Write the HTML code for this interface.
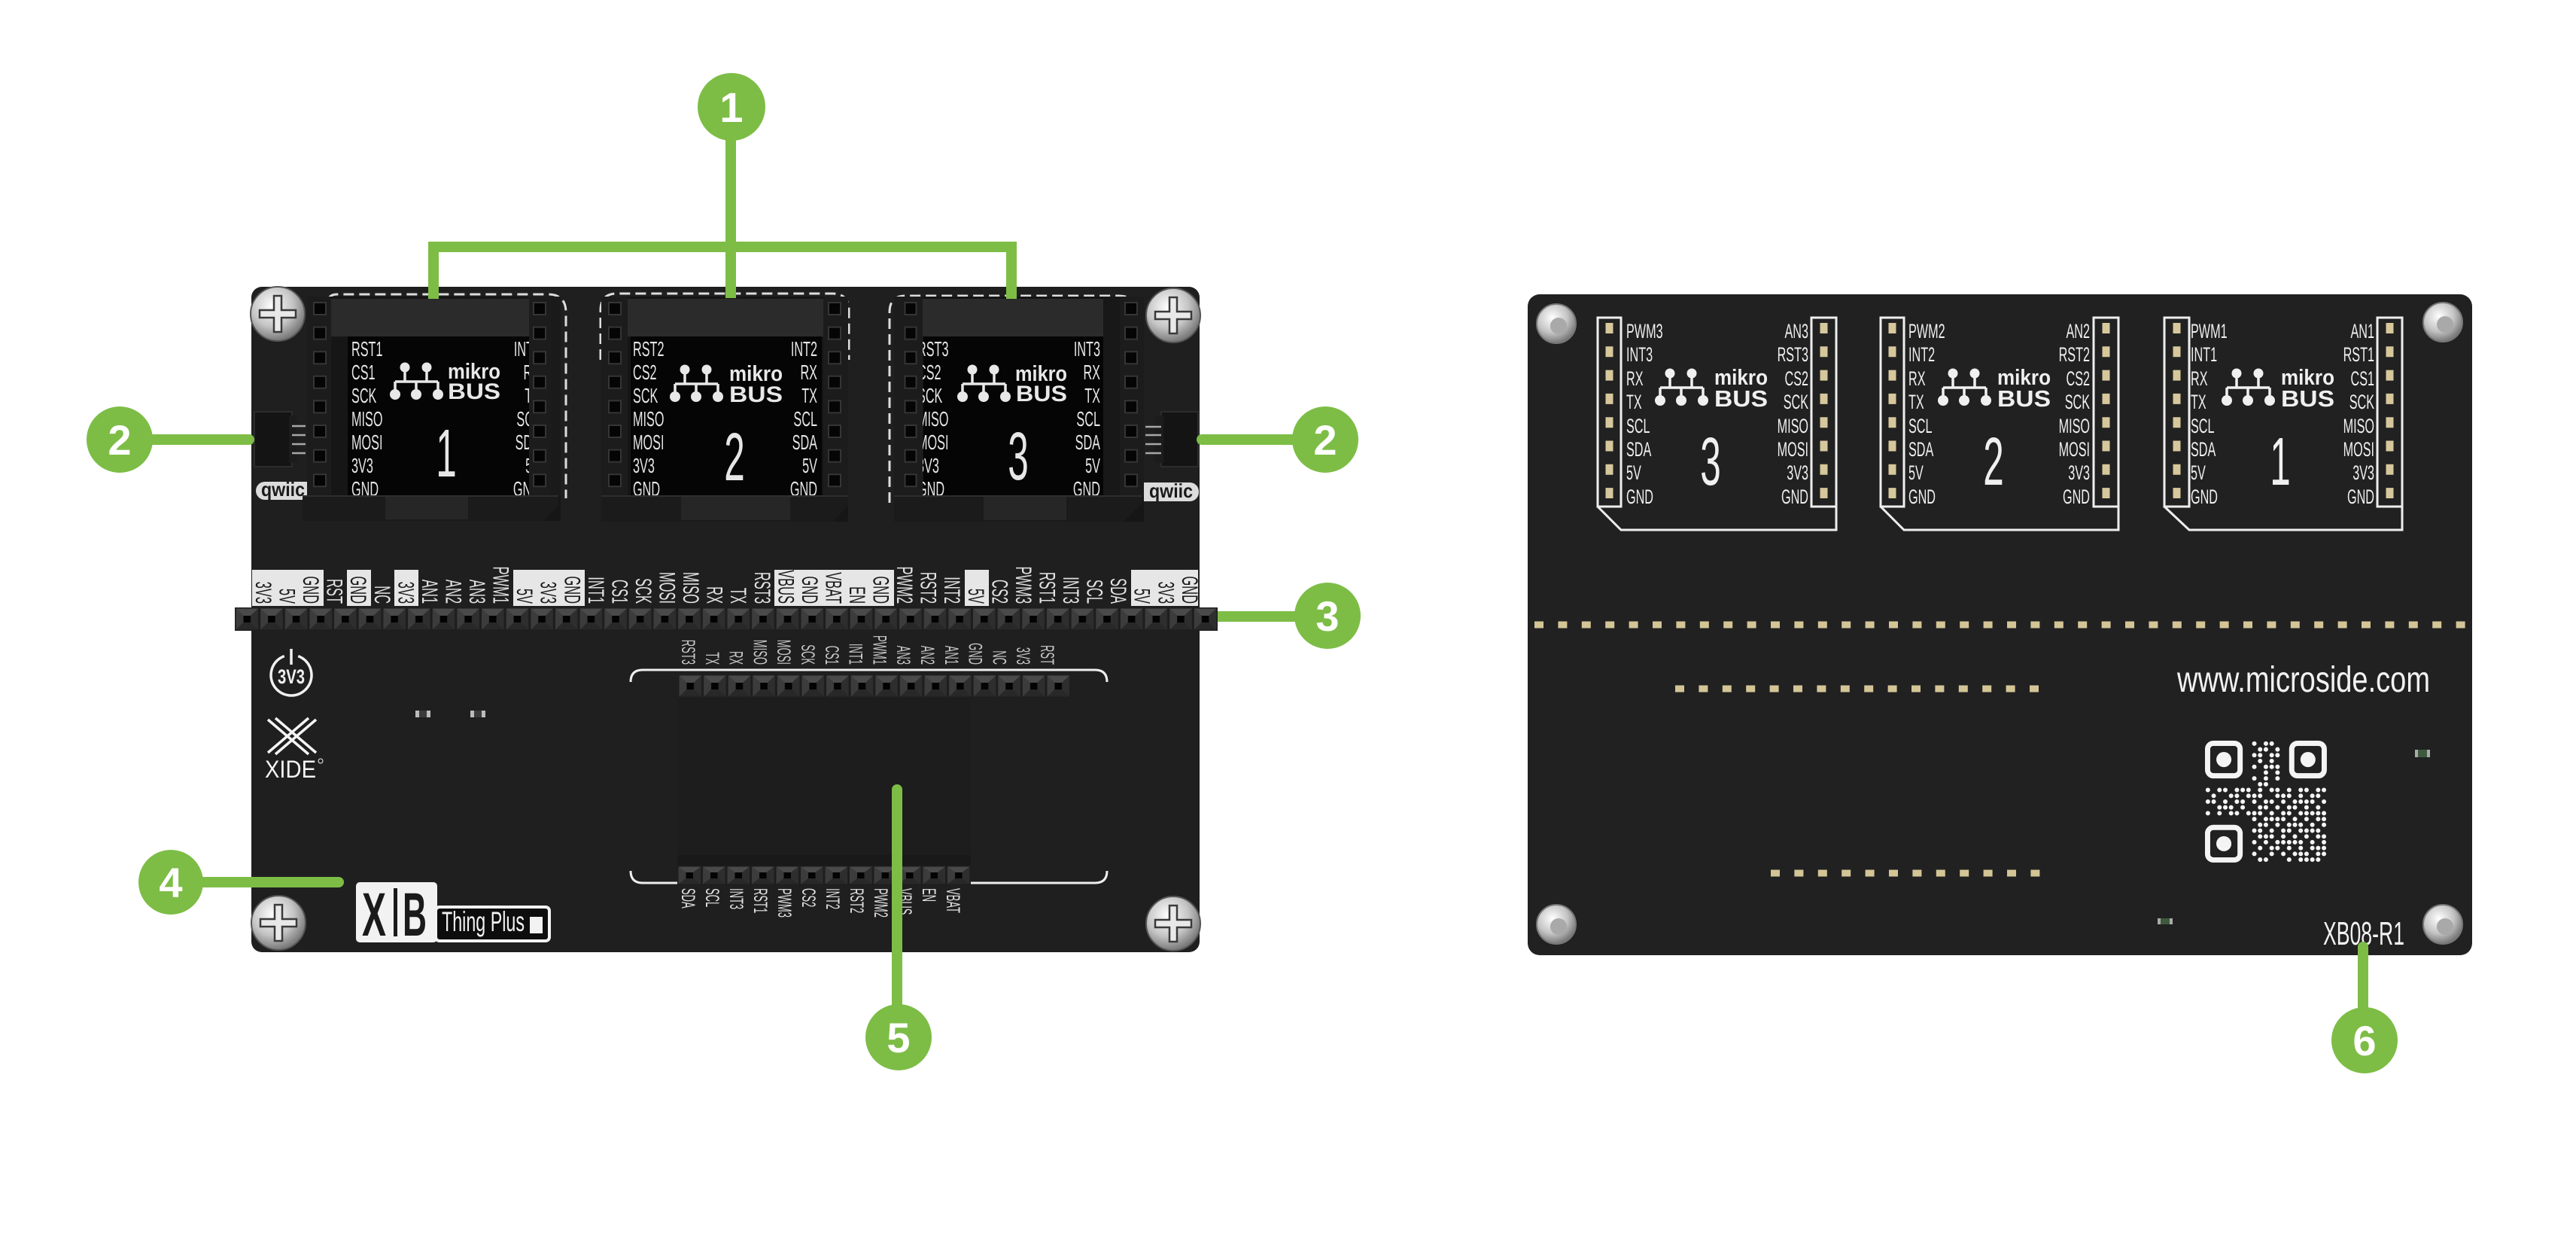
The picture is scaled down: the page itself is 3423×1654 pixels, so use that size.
<!DOCTYPE html>
<html><head><meta charset="utf-8">
<style>
html,body{margin:0;padding:0;background:#fff;}
svg{display:block;}
text{font-family:"Liberation Sans",sans-serif;}
</style></head><body>
<svg width="3423" height="1654" viewBox="0 0 3423 1654" xmlns="http://www.w3.org/2000/svg">
<defs>
 <radialGradient id="scr" cx="40%" cy="35%" r="70%">
  <stop offset="0" stop-color="#ffffff"/>
  <stop offset="0.55" stop-color="#c4c4c4"/>
  <stop offset="1" stop-color="#6a6a6a"/>
 </radialGradient>
 <pattern id="hdrA" x="312" y="807" width="32.65" height="31" patternUnits="userSpaceOnUse">
  <rect width="33" height="31" fill="#1e1e1e"/>
  <polygon points="1.5,1.5 31,1.5 21,11 11.5,11" fill="#4a4a4a"/>
  <polygon points="1.5,1.5 11.5,11 11.5,20 1.5,29.5" fill="#3c3c3c"/>
  <polygon points="31,1.5 31,29.5 21,20 21,11" fill="#2e2e2e"/>
  <polygon points="1.5,29.5 11.5,20 21,20 31,29.5" fill="#282828"/>
  <rect x="11.5" y="11" width="9.5" height="9" fill="#030303"/>
 </pattern>
 <pattern id="hdrB" x="901" y="896" width="32.6" height="31" patternUnits="userSpaceOnUse">
  <rect width="33" height="31" fill="#1e1e1e"/>
  <polygon points="1.5,1.5 31,1.5 21,11 11.5,11" fill="#4a4a4a"/>
  <polygon points="1.5,1.5 11.5,11 11.5,20 1.5,29.5" fill="#3c3c3c"/>
  <polygon points="31,1.5 31,29.5 21,20 21,11" fill="#2e2e2e"/>
  <polygon points="1.5,29.5 11.5,20 21,20 31,29.5" fill="#282828"/>
  <rect x="11.5" y="11" width="9.5" height="9" fill="#030303"/>
 </pattern>
 <pattern id="hdrC" x="900" y="1150" width="32.5" height="26" patternUnits="userSpaceOnUse">
  <rect width="33" height="26" fill="#1e1e1e"/>
  <polygon points="1.5,1.5 31,1.5 21,9 11.5,9" fill="#4a4a4a"/>
  <polygon points="1.5,1.5 11.5,9 11.5,17 1.5,24.5" fill="#3c3c3c"/>
  <polygon points="31,1.5 31,24.5 21,17 21,9" fill="#2e2e2e"/>
  <polygon points="1.5,24.5 11.5,17 21,17 31,24.5" fill="#282828"/>
  <rect x="11.5" y="9" width="9.5" height="8" fill="#030303"/>
 </pattern>
</defs>

<rect width="3423" height="1654" fill="#ffffff"/>

<!-- ================= LEFT BOARD ================= -->
<rect x="334" y="381" width="1260" height="884" rx="14" fill="#1f1f1f"/>
<rect x="901" y="927" width="389" height="210" fill="#1d1d1d"/>

<!-- qwiic connectors -->
<rect x="338" y="547" width="50" height="73" fill="#141414" stroke="#2c2c2c" stroke-width="2"/>
<rect x="384" y="552" width="10" height="63" fill="#1c1c1c"/>
<path d="M388 566H406M388 578H406M388 590H406M388 602H406" stroke="#a8a8a8" stroke-width="2.5"/>
<rect x="1543" y="547" width="49" height="73" fill="#141414" stroke="#2c2c2c" stroke-width="2"/>
<rect x="1534" y="552" width="12" height="63" fill="#1c1c1c"/>
<path d="M1522 567H1543M1522 578H1543M1522 590H1543M1522 602H1543" stroke="#a8a8a8" stroke-width="2.5"/>
<rect x="340" y="640" width="82" height="24" rx="12" fill="#dcdcdc"/>
<text x="347" y="659" font-size="26" font-weight="bold" fill="#1a1a1a" textLength="58" lengthAdjust="spacingAndGlyphs">qwiic</text>
<rect x="1505" y="641" width="88" height="25" rx="12" fill="#dcdcdc"/>
<text x="1527" y="661" font-size="26" font-weight="bold" fill="#1a1a1a" textLength="58" lengthAdjust="spacingAndGlyphs">qwiic</text>

<!-- dashed outlines -->
<g fill="none" stroke="#dddddd" stroke-width="3" stroke-dasharray="14 7">
 <path d="M437 396 Q440 391 448 391 H728 Q752 391 752 415 V662"/>
 <path d="M798 478 V412 Q798 390 820 390 H1106 Q1128 390 1128 412 V478"/>
 <path d="M1182 668 V415 Q1182 393 1203 393 H1486 Q1500 393 1505 400"/>
</g>

<!-- ===== Socket 1 ===== -->
<rect x="408" y="394" width="337" height="298" fill="#161616"/>
<rect x="440" y="397" width="263" height="50" fill="#2b2b2b"/>
<rect x="462" y="447" width="241" height="211" fill="#050505"/>
<g font-size="28" fill="#e6e6e6">
 <text transform="translate(467 473) scale(.58 1)">RST1</text>
 <text transform="translate(467 504) scale(.58 1)">CS1</text>
 <text transform="translate(467 535) scale(.58 1)">SCK</text>
 <text transform="translate(467 566) scale(.58 1)">MISO</text>
 <text transform="translate(467 597) scale(.58 1)">MOSI</text>
 <text transform="translate(467 628) scale(.58 1)">3V3</text>
 <text transform="translate(467 659) scale(.58 1)">GND</text>
 <g text-anchor="end">
 <text transform="translate(718 473) scale(.58 1)">INT1</text>
 <text transform="translate(718 504) scale(.58 1)">RX</text>
 <text transform="translate(718 535) scale(.58 1)">TX</text>
 <text transform="translate(718 566) scale(.58 1)">SCL</text>
 <text transform="translate(718 597) scale(.58 1)">SDA</text>
 <text transform="translate(718 628) scale(.58 1)">5V</text>
 <text transform="translate(718 659) scale(.58 1)">GND</text>
 </g>
 <text transform="translate(593 633) scale(.55 1)" font-size="90" text-anchor="middle">1</text>
</g>
<g transform="translate(518 481)">
 <g fill="#e8e8e8"><circle cx="20" cy="7" r="6.5"/><circle cx="49" cy="7" r="6.5"/><circle cx="7" cy="43" r="7"/><circle cx="35" cy="43" r="7"/><circle cx="64" cy="43" r="7"/></g>
 <path d="M20 7V26M49 7V26M7 26H64M7 26V43M35 26V43M64 26V43" fill="none" stroke="#e8e8e8" stroke-width="3.5"/>
 <text x="77" y="22" font-size="29" font-weight="bold" fill="#e8e8e8" textLength="70" lengthAdjust="spacingAndGlyphs">mikro</text>
 <text x="77" y="49" font-size="30" font-weight="bold" fill="#e8e8e8" textLength="70" lengthAdjust="spacingAndGlyphs">BUS</text>
</g>
<rect x="408" y="394" width="32" height="264" fill="#1c1c1c"/>
<rect x="703" y="394" width="29" height="264" fill="#1c1c1c"/>
<rect x="732" y="394" width="13" height="264" fill="#1a1a1a"/>
<line x1="425" y1="401" x2="425" y2="647.2" stroke="#353535" stroke-width="18" stroke-dasharray="18 14.6"/>
<line x1="425" y1="403" x2="425" y2="645.2" stroke="#050505" stroke-width="14" stroke-dasharray="14 18.6"/>
<line x1="717" y1="401" x2="717" y2="647.2" stroke="#353535" stroke-width="18" stroke-dasharray="18 14.6"/>
<line x1="717" y1="403" x2="717" y2="645.2" stroke="#050505" stroke-width="14" stroke-dasharray="14 18.6"/>
<polygon points="402,658 742,658 742,672 722,692 402,692" fill="#1b1b1b"/>
<rect x="512" y="660" width="110" height="30" fill="#262626"/>
<line x1="402" y1="659" x2="742" y2="659" stroke="#2e2e2e" stroke-width="2"/>

<!-- ===== Socket 2 ===== -->
<rect x="799" y="394" width="328" height="299" fill="#161616"/>
<rect x="834" y="397" width="260" height="50" fill="#2b2b2b"/>
<rect x="838" y="447" width="254" height="211" fill="#050505"/>
<g font-size="28" fill="#e6e6e6">
 <text transform="translate(841 473) scale(.58 1)">RST2</text>
 <text transform="translate(841 504) scale(.58 1)">CS2</text>
 <text transform="translate(841 535) scale(.58 1)">SCK</text>
 <text transform="translate(841 566) scale(.58 1)">MISO</text>
 <text transform="translate(841 597) scale(.58 1)">MOSI</text>
 <text transform="translate(841 628) scale(.58 1)">3V3</text>
 <text transform="translate(841 659) scale(.58 1)">GND</text>
 <g text-anchor="end">
 <text transform="translate(1086 473) scale(.58 1)">INT2</text>
 <text transform="translate(1086 504) scale(.58 1)">RX</text>
 <text transform="translate(1086 535) scale(.58 1)">TX</text>
 <text transform="translate(1086 566) scale(.58 1)">SCL</text>
 <text transform="translate(1086 597) scale(.58 1)">SDA</text>
 <text transform="translate(1086 628) scale(.58 1)">5V</text>
 <text transform="translate(1086 659) scale(.58 1)">GND</text>
 </g>
 <text transform="translate(976 638) scale(.55 1)" font-size="90" text-anchor="middle">2</text>
</g>
<g transform="translate(890 484)">
 <g fill="#e8e8e8"><circle cx="20" cy="7" r="6.5"/><circle cx="49" cy="7" r="6.5"/><circle cx="7" cy="43" r="7"/><circle cx="35" cy="43" r="7"/><circle cx="64" cy="43" r="7"/></g>
 <path d="M20 7V26M49 7V26M7 26H64M7 26V43M35 26V43M64 26V43" fill="none" stroke="#e8e8e8" stroke-width="3.5"/>
 <text x="79" y="22" font-size="29" font-weight="bold" fill="#e8e8e8" textLength="71" lengthAdjust="spacingAndGlyphs">mikro</text>
 <text x="79" y="50" font-size="30" font-weight="bold" fill="#e8e8e8" textLength="71" lengthAdjust="spacingAndGlyphs">BUS</text>
</g>
<rect x="799" y="394" width="35" height="264" fill="#1c1c1c"/>
<rect x="1094" y="394" width="33" height="264" fill="#1c1c1c"/>
<line x1="817" y1="401" x2="817" y2="647.2" stroke="#353535" stroke-width="18" stroke-dasharray="18 14.6"/>
<line x1="817" y1="403" x2="817" y2="645.2" stroke="#050505" stroke-width="14" stroke-dasharray="14 18.6"/>
<line x1="1109" y1="401" x2="1109" y2="647.2" stroke="#353535" stroke-width="18" stroke-dasharray="18 14.6"/>
<line x1="1109" y1="403" x2="1109" y2="645.2" stroke="#050505" stroke-width="14" stroke-dasharray="14 18.6"/>
<polygon points="799,658 1127,658 1127,672 1107,693 799,693" fill="#1b1b1b"/>
<rect x="905" y="660" width="145" height="31" fill="#262626"/>
<line x1="799" y1="659" x2="1127" y2="659" stroke="#2e2e2e" stroke-width="2"/>

<!-- ===== Socket 3 ===== -->
<rect x="1188" y="394" width="332" height="299" fill="#161616"/>
<rect x="1226" y="397" width="264" height="50" fill="#2b2b2b"/>
<rect x="1227" y="447" width="239" height="211" fill="#050505"/>
<g font-size="28" fill="#e6e6e6">
 <text transform="translate(1219 473) scale(.58 1)">RST3</text>
 <text transform="translate(1219 504) scale(.58 1)">CS2</text>
 <text transform="translate(1219 535) scale(.58 1)">SCK</text>
 <text transform="translate(1219 566) scale(.58 1)">MISO</text>
 <text transform="translate(1219 597) scale(.58 1)">MOSI</text>
 <text transform="translate(1219 628) scale(.58 1)">3V3</text>
 <text transform="translate(1219 659) scale(.58 1)">GND</text>
 <g text-anchor="end">
 <text transform="translate(1462 473) scale(.58 1)">INT3</text>
 <text transform="translate(1462 504) scale(.58 1)">RX</text>
 <text transform="translate(1462 535) scale(.58 1)">TX</text>
 <text transform="translate(1462 566) scale(.58 1)">SCL</text>
 <text transform="translate(1462 597) scale(.58 1)">SDA</text>
 <text transform="translate(1462 628) scale(.58 1)">5V</text>
 <text transform="translate(1462 659) scale(.58 1)">GND</text>
 </g>
 <text transform="translate(1353 637) scale(.55 1)" font-size="90" text-anchor="middle">3</text>
</g>
<g transform="translate(1272 484)">
 <g fill="#e8e8e8"><circle cx="20" cy="7" r="6.5"/><circle cx="49" cy="7" r="6.5"/><circle cx="7" cy="43" r="7"/><circle cx="35" cy="43" r="7"/><circle cx="64" cy="43" r="7"/></g>
 <path d="M20 7V26M49 7V26M7 26H64M7 26V43M35 26V43M64 26V43" fill="none" stroke="#e8e8e8" stroke-width="3.5"/>
 <text x="77" y="22" font-size="29" font-weight="bold" fill="#e8e8e8" textLength="69" lengthAdjust="spacingAndGlyphs">mikro</text>
 <text x="78" y="49" font-size="30" font-weight="bold" fill="#e8e8e8" textLength="68" lengthAdjust="spacingAndGlyphs">BUS</text>
</g>
<rect x="1188" y="394" width="38" height="264" fill="#1c1c1c"/>
<rect x="1466" y="394" width="22" height="264" fill="#181818"/>
<rect x="1488" y="394" width="32" height="264" fill="#1c1c1c"/>
<line x1="1210" y1="401" x2="1210" y2="647.2" stroke="#353535" stroke-width="17" stroke-dasharray="18 14.6"/>
<line x1="1210" y1="403" x2="1210" y2="645.2" stroke="#050505" stroke-width="13" stroke-dasharray="14 18.6"/>
<line x1="1503" y1="401" x2="1503" y2="647.2" stroke="#353535" stroke-width="18" stroke-dasharray="18 14.6"/>
<line x1="1503" y1="403" x2="1503" y2="645.2" stroke="#050505" stroke-width="14" stroke-dasharray="14 18.6"/>
<polygon points="1188,658 1518,658 1518,668 1493,693 1188,693" fill="#1b1b1b"/>
<rect x="1307" y="660" width="110" height="31" fill="#262626"/>
<line x1="1188" y1="659" x2="1518" y2="659" stroke="#2e2e2e" stroke-width="2"/>

<!-- screws -->
<g transform="translate(369 417)"><circle r="36" fill="url(#scr)" stroke="#555" stroke-width="2"/><path d="M-5 -24H5V-5H24V5H5V24H-5V5H-24V-5H-5Z" fill="#e9e9e9" stroke="#3a3a3a" stroke-width="2.5"/></g>
<g transform="translate(1559 419)"><circle r="36" fill="url(#scr)" stroke="#555" stroke-width="2"/><path d="M-5 -24H5V-5H24V5H5V24H-5V5H-24V-5H-5Z" fill="#e9e9e9" stroke="#3a3a3a" stroke-width="2.5"/></g>
<g transform="translate(370 1226)"><circle r="36" fill="url(#scr)" stroke="#555" stroke-width="2"/><path d="M-5 -24H5V-5H24V5H5V24H-5V5H-24V-5H-5Z" fill="#e9e9e9" stroke="#3a3a3a" stroke-width="2.5"/></g>
<g transform="translate(1559 1227)"><circle r="36" fill="url(#scr)" stroke="#555" stroke-width="2"/><path d="M-5 -24H5V-5H24V5H5V24H-5V5H-24V-5H-5Z" fill="#e9e9e9" stroke="#3a3a3a" stroke-width="2.5"/></g>

<!-- top header label boxes -->
<g fill="#e6e6e6">
 <rect x="335" y="757" width="95" height="48"/>
 <rect x="461" y="757" width="32" height="48"/>
 <rect x="524" y="757" width="32" height="48"/>
 <rect x="682" y="757" width="95" height="48"/>
 <rect x="1029" y="757" width="159" height="48"/>
 <rect x="1282" y="757" width="32" height="48"/>
 <rect x="1503" y="757" width="89" height="48"/>
</g>
<g font-size="30" fill="#e2e2e2" text-anchor="end">
 <text fill="#1a1a1a" transform="translate(340 802) rotate(90) scale(.55 1)">3V3</text>
 <text fill="#1a1a1a" transform="translate(371.6 802) rotate(90) scale(.55 1)">5V</text>
 <text fill="#1a1a1a" transform="translate(403.1 802) rotate(90) scale(.55 1)">GND</text>
 <text transform="translate(434.7 802) rotate(90) scale(.55 1)">RST</text>
 <text fill="#1a1a1a" transform="translate(466.2 802) rotate(90) scale(.55 1)">GND</text>
 <text transform="translate(497.8 802) rotate(90) scale(.55 1)">NC</text>
 <text fill="#1a1a1a" transform="translate(529.4 802) rotate(90) scale(.55 1)">3V3</text>
 <text transform="translate(560.9 802) rotate(90) scale(.55 1)">AN1</text>
 <text transform="translate(592.5 802) rotate(90) scale(.55 1)">AN2</text>
 <text transform="translate(624 802) rotate(90) scale(.55 1)">AN3</text>
 <text transform="translate(655.6 802) rotate(90) scale(.55 1)">PWM1</text>
 <text fill="#1a1a1a" transform="translate(687.2 802) rotate(90) scale(.55 1)">5V</text>
 <text fill="#1a1a1a" transform="translate(718.7 802) rotate(90) scale(.55 1)">3V3</text>
 <text fill="#1a1a1a" transform="translate(750.3 802) rotate(90) scale(.55 1)">GND</text>
 <text transform="translate(781.8 802) rotate(90) scale(.55 1)">INT1</text>
 <text transform="translate(813.4 802) rotate(90) scale(.55 1)">CS1</text>
 <text transform="translate(845 802) rotate(90) scale(.55 1)">SCK</text>
 <text transform="translate(876.5 802) rotate(90) scale(.55 1)">MOSI</text>
 <text transform="translate(908.1 802) rotate(90) scale(.55 1)">MISO</text>
 <text transform="translate(939.6 802) rotate(90) scale(.55 1)">RX</text>
 <text transform="translate(971.2 802) rotate(90) scale(.55 1)">TX</text>
 <text transform="translate(1002.8 802) rotate(90) scale(.55 1)">RST3</text>
 <text fill="#1a1a1a" transform="translate(1034.3 802) rotate(90) scale(.55 1)">VBUS</text>
 <text fill="#1a1a1a" transform="translate(1065.9 802) rotate(90) scale(.55 1)">GND</text>
 <text fill="#1a1a1a" transform="translate(1097.4 802) rotate(90) scale(.55 1)">VBAT</text>
 <text fill="#1a1a1a" transform="translate(1129 802) rotate(90) scale(.55 1)">EN</text>
 <text fill="#1a1a1a" transform="translate(1160.6 802) rotate(90) scale(.55 1)">GND</text>
 <text transform="translate(1192.1 802) rotate(90) scale(.55 1)">PWM2</text>
 <text transform="translate(1223.7 802) rotate(90) scale(.55 1)">RST2</text>
 <text transform="translate(1255.2 802) rotate(90) scale(.55 1)">INT2</text>
 <text fill="#1a1a1a" transform="translate(1286.8 802) rotate(90) scale(.55 1)">5V</text>
 <text transform="translate(1318.4 802) rotate(90) scale(.55 1)">CS2</text>
 <text transform="translate(1349.9 802) rotate(90) scale(.55 1)">PWM3</text>
 <text transform="translate(1381.5 802) rotate(90) scale(.55 1)">RST1</text>
 <text transform="translate(1413 802) rotate(90) scale(.55 1)">INT3</text>
 <text transform="translate(1444.6 802) rotate(90) scale(.55 1)">SCL</text>
 <text transform="translate(1476.2 802) rotate(90) scale(.55 1)">SDA</text>
 <text fill="#1a1a1a" transform="translate(1507.7 802) rotate(90) scale(.55 1)">5V</text>
 <text fill="#1a1a1a" transform="translate(1539.3 802) rotate(90) scale(.55 1)">3V3</text>
 <text fill="#1a1a1a" transform="translate(1570.8 802) rotate(90) scale(.55 1)">GND</text>
</g>
<!-- top header -->
<rect x="312" y="807" width="1306" height="31" fill="url(#hdrA)"/>

<!-- middle header -->
<g font-size="25" fill="#c8c8c8" text-anchor="end">
 <text transform="translate(906 883) rotate(90) scale(.52 1)">RST3</text>
 <text transform="translate(937.8 883) rotate(90) scale(.52 1)">TX</text>
 <text transform="translate(969.6 883) rotate(90) scale(.52 1)">RX</text>
 <text transform="translate(1001.4 883) rotate(90) scale(.52 1)">MISO</text>
 <text transform="translate(1033.2 883) rotate(90) scale(.52 1)">MOSI</text>
 <text transform="translate(1065 883) rotate(90) scale(.52 1)">SCK</text>
 <text transform="translate(1096.8 883) rotate(90) scale(.52 1)">CS1</text>
 <text transform="translate(1128.6 883) rotate(90) scale(.52 1)">INT1</text>
 <text transform="translate(1160.4 883) rotate(90) scale(.52 1)">PWM1</text>
 <text transform="translate(1192.2 883) rotate(90) scale(.52 1)">AN3</text>
 <text transform="translate(1224 883) rotate(90) scale(.52 1)">AN2</text>
 <text transform="translate(1255.8 883) rotate(90) scale(.52 1)">AN1</text>
 <text transform="translate(1287.6 883) rotate(90) scale(.52 1)">GND</text>
 <text transform="translate(1319.4 883) rotate(90) scale(.52 1)">NC</text>
 <text transform="translate(1351.2 883) rotate(90) scale(.52 1)">3V3</text>
 <text transform="translate(1383 883) rotate(90) scale(.52 1)">RST</text>
</g>
<path d="M838 906 Q838 890 854 890 H1455 Q1471 890 1471 906" fill="none" stroke="#eeeeee" stroke-width="3"/>
<rect x="901" y="896" width="521.6" height="31" fill="url(#hdrB)"/>

<!-- bottom header -->
<path d="M838 1157 Q838 1173 854 1173 H1455 Q1471 1173 1471 1157" fill="none" stroke="#eeeeee" stroke-width="3"/>
<g font-size="25" fill="#e0e0e0">
 <text transform="translate(906 1180) rotate(90) scale(.52 1)">SDA</text>
 <text transform="translate(938 1180) rotate(90) scale(.52 1)">SCL</text>
 <text transform="translate(970 1180) rotate(90) scale(.52 1)">INT3</text>
 <text transform="translate(1002 1180) rotate(90) scale(.52 1)">RST1</text>
 <text transform="translate(1034 1180) rotate(90) scale(.52 1)">PWM3</text>
 <text transform="translate(1066 1180) rotate(90) scale(.52 1)">CS2</text>
 <text transform="translate(1098 1180) rotate(90) scale(.52 1)">INT2</text>
 <text transform="translate(1130 1180) rotate(90) scale(.52 1)">RST2</text>
 <text transform="translate(1162 1180) rotate(90) scale(.52 1)">PWM2</text>
 <text transform="translate(1194 1180) rotate(90) scale(.52 1)">VBUS</text>
 <text transform="translate(1226 1180) rotate(90) scale(.52 1)">EN</text>
 <text transform="translate(1258 1180) rotate(90) scale(.52 1)">VBAT</text>
</g>
<rect x="900" y="1136" width="390" height="14" fill="#191919"/>
<rect x="900" y="1150" width="390" height="26" fill="url(#hdrC)"/>

<!-- 3V3 icon -->
<path d="M396.2 871.6 A27 27 0 1 1 377.8 871.6" fill="none" stroke="#f0f0f0" stroke-width="3.5"/>
<path d="M387 862 V883" stroke="#f0f0f0" stroke-width="3.5"/>
<text x="369" y="908" font-size="27" font-weight="bold" fill="#f0f0f0" textLength="36" lengthAdjust="spacingAndGlyphs">3V3</text>

<!-- XIDE -->
<g stroke="#f4f4f4" stroke-width="3.5" fill="none">
 <path d="M356 956 L410 1002 M366 954 L420 1000 M420 956 L366 1002 M410 954 L356 1000"/>
</g>
<text x="352" y="1033" font-size="32" fill="#f4f4f4" textLength="68" lengthAdjust="spacingAndGlyphs">XIDE</text>
<circle cx="426" cy="1011" r="3" fill="none" stroke="#f4f4f4" stroke-width="1"/>

<!-- small parts -->
<rect x="552" y="944" width="20" height="9" fill="#3a3a3a"/><rect x="552" y="944" width="5" height="9" fill="#bbb"/><rect x="567" y="944" width="5" height="9" fill="#bbb"/>
<rect x="625" y="944" width="20" height="9" fill="#3a3a3a"/><rect x="625" y="944" width="5" height="9" fill="#bbb"/><rect x="640" y="944" width="5" height="9" fill="#bbb"/>

<!-- XB Thing Plus -->
<rect x="579" y="1205" width="151" height="45" rx="5" fill="#0d0d0d" stroke="#f2f2f2" stroke-width="4"/>
<rect x="473" y="1172" width="108" height="80" rx="5" fill="#f2f2f2"/>
<text x="481" y="1243" font-size="82" font-weight="bold" fill="#1a1a1a" textLength="32" lengthAdjust="spacingAndGlyphs">X</text>
<rect x="523" y="1180" width="5" height="64" fill="#1a1a1a"/>
<text x="535" y="1243" font-size="82" font-weight="bold" fill="#1a1a1a" textLength="32" lengthAdjust="spacingAndGlyphs">B</text>
<text x="587" y="1237" font-size="37" fill="#f2f2f2" textLength="110" lengthAdjust="spacingAndGlyphs">Thing Plus</text>
<rect x="704" y="1218" width="17" height="22" fill="#f2f2f2"/>

<!-- ================= RIGHT BOARD ================= -->
<rect x="2030" y="391" width="1255" height="878" rx="16" fill="#212121"/>

<!-- silkscreen blocks -->
<g fill="none" stroke="#eeeeee" stroke-width="3">
 <rect x="2123" y="422" width="31" height="251"/><rect x="2407" y="422" width="33" height="251"/>
 <path d="M2123 673 L2154 704 H2440 V673"/>
 <rect x="2499" y="422" width="31" height="251"/><rect x="2782" y="422" width="33" height="251"/>
 <path d="M2499 673 L2530 704 H2815 V673"/>
 <rect x="2876" y="422" width="33" height="251"/><rect x="3159" y="422" width="33" height="251"/>
 <path d="M2876 673 L2909 704 H3192 V673"/>
</g>
<g stroke="#d6c89c" stroke-width="10" stroke-dasharray="14 17.3">
 <line x1="2138.5" y1="429" x2="2138.5" y2="662"/>
 <line x1="2423.5" y1="429" x2="2423.5" y2="662"/>
 <line x1="2514.5" y1="429" x2="2514.5" y2="662"/>
 <line x1="2798.5" y1="429" x2="2798.5" y2="662"/>
 <line x1="2892.5" y1="429" x2="2892.5" y2="662"/>
 <line x1="3175.5" y1="429" x2="3175.5" y2="662"/>
</g>
<g font-size="27" fill="#f0f0f0">
 <text transform="translate(2161 449) scale(.6 1)">PWM3</text>
 <text transform="translate(2161 480) scale(.6 1)">INT3</text>
 <text transform="translate(2161 512) scale(.6 1)">RX</text>
 <text transform="translate(2161 543) scale(.6 1)">TX</text>
 <text transform="translate(2161 575) scale(.6 1)">SCL</text>
 <text transform="translate(2161 606) scale(.6 1)">SDA</text>
 <text transform="translate(2161 637) scale(.6 1)">5V</text>
 <text transform="translate(2161 669) scale(.6 1)">GND</text>
 <text transform="translate(2536 449) scale(.6 1)">PWM2</text>
 <text transform="translate(2536 480) scale(.6 1)">INT2</text>
 <text transform="translate(2536 512) scale(.6 1)">RX</text>
 <text transform="translate(2536 543) scale(.6 1)">TX</text>
 <text transform="translate(2536 575) scale(.6 1)">SCL</text>
 <text transform="translate(2536 606) scale(.6 1)">SDA</text>
 <text transform="translate(2536 637) scale(.6 1)">5V</text>
 <text transform="translate(2536 669) scale(.6 1)">GND</text>
 <text transform="translate(2911 449) scale(.6 1)">PWM1</text>
 <text transform="translate(2911 480) scale(.6 1)">INT1</text>
 <text transform="translate(2911 512) scale(.6 1)">RX</text>
 <text transform="translate(2911 543) scale(.6 1)">TX</text>
 <text transform="translate(2911 575) scale(.6 1)">SCL</text>
 <text transform="translate(2911 606) scale(.6 1)">SDA</text>
 <text transform="translate(2911 637) scale(.6 1)">5V</text>
 <text transform="translate(2911 669) scale(.6 1)">GND</text>
 <g text-anchor="end">
 <text transform="translate(2403 449) scale(.6 1)">AN3</text>
 <text transform="translate(2403 480) scale(.6 1)">RST3</text>
 <text transform="translate(2403 512) scale(.6 1)">CS2</text>
 <text transform="translate(2403 543) scale(.6 1)">SCK</text>
 <text transform="translate(2403 575) scale(.6 1)">MISO</text>
 <text transform="translate(2403 606) scale(.6 1)">MOSI</text>
 <text transform="translate(2403 637) scale(.6 1)">3V3</text>
 <text transform="translate(2403 669) scale(.6 1)">GND</text>
 <text transform="translate(2777 449) scale(.6 1)">AN2</text>
 <text transform="translate(2777 480) scale(.6 1)">RST2</text>
 <text transform="translate(2777 512) scale(.6 1)">CS2</text>
 <text transform="translate(2777 543) scale(.6 1)">SCK</text>
 <text transform="translate(2777 575) scale(.6 1)">MISO</text>
 <text transform="translate(2777 606) scale(.6 1)">MOSI</text>
 <text transform="translate(2777 637) scale(.6 1)">3V3</text>
 <text transform="translate(2777 669) scale(.6 1)">GND</text>
 <text transform="translate(3155 449) scale(.6 1)">AN1</text>
 <text transform="translate(3155 480) scale(.6 1)">RST1</text>
 <text transform="translate(3155 512) scale(.6 1)">CS1</text>
 <text transform="translate(3155 543) scale(.6 1)">SCK</text>
 <text transform="translate(3155 575) scale(.6 1)">MISO</text>
 <text transform="translate(3155 606) scale(.6 1)">MOSI</text>
 <text transform="translate(3155 637) scale(.6 1)">3V3</text>
 <text transform="translate(3155 669) scale(.6 1)">GND</text>
 </g>
 <text transform="translate(2273 644) scale(.55 1)" font-size="90" text-anchor="middle">3</text>
 <text transform="translate(2649 644) scale(.55 1)" font-size="90" text-anchor="middle">2</text>
 <text transform="translate(3030 644) scale(.55 1)" font-size="90" text-anchor="middle">1</text>
</g>
<g transform="translate(2199 489)">
 <g fill="#f0f0f0"><circle cx="20" cy="7" r="6.5"/><circle cx="49" cy="7" r="6.5"/><circle cx="7" cy="43" r="7"/><circle cx="35" cy="43" r="7"/><circle cx="64" cy="43" r="7"/></g>
 <path d="M20 7V26M49 7V26M7 26H64M7 26V43M35 26V43M64 26V43" fill="none" stroke="#f0f0f0" stroke-width="3.5"/>
 <text x="79" y="22" font-size="29" font-weight="bold" fill="#f0f0f0" textLength="71" lengthAdjust="spacingAndGlyphs">mikro</text>
 <text x="79" y="51" font-size="31" font-weight="bold" fill="#f0f0f0" textLength="71" lengthAdjust="spacingAndGlyphs">BUS</text>
</g>
<g transform="translate(2575 489)">
 <g fill="#f0f0f0"><circle cx="20" cy="7" r="6.5"/><circle cx="49" cy="7" r="6.5"/><circle cx="7" cy="43" r="7"/><circle cx="35" cy="43" r="7"/><circle cx="64" cy="43" r="7"/></g>
 <path d="M20 7V26M49 7V26M7 26H64M7 26V43M35 26V43M64 26V43" fill="none" stroke="#f0f0f0" stroke-width="3.5"/>
 <text x="79" y="22" font-size="29" font-weight="bold" fill="#f0f0f0" textLength="71" lengthAdjust="spacingAndGlyphs">mikro</text>
 <text x="79" y="51" font-size="31" font-weight="bold" fill="#f0f0f0" textLength="71" lengthAdjust="spacingAndGlyphs">BUS</text>
</g>
<g transform="translate(2952 489)">
 <g fill="#f0f0f0"><circle cx="20" cy="7" r="6.5"/><circle cx="49" cy="7" r="6.5"/><circle cx="7" cy="43" r="7"/><circle cx="35" cy="43" r="7"/><circle cx="64" cy="43" r="7"/></g>
 <path d="M20 7V26M49 7V26M7 26H64M7 26V43M35 26V43M64 26V43" fill="none" stroke="#f0f0f0" stroke-width="3.5"/>
 <text x="79" y="22" font-size="29" font-weight="bold" fill="#f0f0f0" textLength="71" lengthAdjust="spacingAndGlyphs">mikro</text>
 <text x="79" y="51" font-size="31" font-weight="bold" fill="#f0f0f0" textLength="71" lengthAdjust="spacingAndGlyphs">BUS</text>
</g>

<!-- pad rows -->
<g stroke="#d3c596" stroke-width="9">
 <line x1="2039" y1="830" x2="3275.6" y2="830" stroke-dasharray="12 19.4"/>
 <line x1="2226" y1="915" x2="2709" y2="915" stroke-dasharray="12 19.4"/>
 <line x1="2353" y1="1160" x2="2710.4" y2="1160" stroke-dasharray="12 19.4"/>
</g>

<text x="2893" y="919" font-size="48" fill="#f2f2f2" textLength="336" lengthAdjust="spacingAndGlyphs">www.microside.com</text>

<!-- QR -->
<g transform="translate(2930 984) scale(7.71)">
 <g fill="none" stroke="#f4f4f4" stroke-width="0.9">
  <rect x="0.45" y="0.45" width="5.6" height="5.6" rx="1"/>
  <rect x="14.95" y="0.45" width="5.6" height="5.6" rx="1"/>
  <rect x="0.45" y="14.95" width="5.6" height="5.6" rx="1"/>
 </g>
 <g fill="#f4f4f4">
  <circle cx="3.25" cy="3.25" r="1.3"/><circle cx="17.75" cy="3.25" r="1.3"/><circle cx="3.25" cy="17.75" r="1.3"/>
 </g>
 <path fill="none" stroke="#f4f4f4" stroke-width="0.78" stroke-linecap="round" d="
M8.5 .5h0M10.5 .5h0M11.5 .5h0
M9.5 1.5h0M10.5 1.5h0M12.5 1.5h0
M8.5 2.5h0M9.5 2.5h0M11.5 2.5h0M12.5 2.5h0
M9.5 3.5h0M11.5 3.5h0
M8.5 4.5h0M10.5 4.5h0M11.5 4.5h0M12.5 4.5h0
M10.5 5.5h0M12.5 5.5h0
M8.5 6.5h0M10.5 6.5h0M12.5 6.5h0
M9.5 7.5h0M10.5 7.5h0
M0.5 8.5h0M2.5 8.5h0M3.5 8.5h0M5.5 8.5h0M6.5 8.5h0M7.5 8.5h0M9.5 8.5h0M11.5 8.5h0M12.5 8.5h0M14.5 8.5h0M16.5 8.5h0M17.5 8.5h0M19.5 8.5h0M20.5 8.5h0
M1.5 9.5h0M4.5 9.5h0M5.5 9.5h0M7.5 9.5h0M8.5 9.5h0M9.5 9.5h0M12.5 9.5h0M13.5 9.5h0M14.5 9.5h0M16.5 9.5h0M18.5 9.5h0M19.5 9.5h0
M0.5 10.5h0M1.5 10.5h0M3.5 10.5h0M5.5 10.5h0M6.5 10.5h0M8.5 10.5h0M10.5 10.5h0M11.5 10.5h0M13.5 10.5h0M15.5 10.5h0M16.5 10.5h0M17.5 10.5h0M18.5 10.5h0M20.5 10.5h0
M2.5 11.5h0M3.5 11.5h0M4.5 11.5h0M6.5 11.5h0M9.5 11.5h0M10.5 11.5h0M12.5 11.5h0M14.5 11.5h0M15.5 11.5h0M17.5 11.5h0M19.5 11.5h0
M0.5 12.5h0M2.5 12.5h0M4.5 12.5h0M5.5 12.5h0M7.5 12.5h0M8.5 12.5h0M9.5 12.5h0M11.5 12.5h0M13.5 12.5h0M14.5 12.5h0M16.5 12.5h0M17.5 12.5h0M18.5 12.5h0M19.5 12.5h0M20.5 12.5h0
M8.5 13.5h0M10.5 13.5h0M11.5 13.5h0M12.5 13.5h0M13.5 13.5h0M15.5 13.5h0M17.5 13.5h0M19.5 13.5h0M20.5 13.5h0
M9.5 14.5h0M10.5 14.5h0M12.5 14.5h0M14.5 14.5h0M15.5 14.5h0M16.5 14.5h0M18.5 14.5h0M20.5 14.5h0
M8.5 15.5h0M9.5 15.5h0M11.5 15.5h0M13.5 15.5h0M14.5 15.5h0M16.5 15.5h0M17.5 15.5h0M18.5 15.5h0M19.5 15.5h0
M9.5 16.5h0M10.5 16.5h0M11.5 16.5h0M13.5 16.5h0M15.5 16.5h0M17.5 16.5h0M19.5 16.5h0M20.5 16.5h0
M8.5 17.5h0M10.5 17.5h0M12.5 17.5h0M13.5 17.5h0M14.5 17.5h0M15.5 17.5h0M16.5 17.5h0M18.5 17.5h0M20.5 17.5h0
M9.5 18.5h0M11.5 18.5h0M12.5 18.5h0M14.5 18.5h0M16.5 18.5h0M18.5 18.5h0M19.5 18.5h0M20.5 18.5h0
M8.5 19.5h0M11.5 19.5h0M13.5 19.5h0M15.5 19.5h0M16.5 19.5h0M17.5 19.5h0M19.5 19.5h0M20.5 19.5h0
M9.5 20.5h0M10.5 20.5h0M14.5 20.5h0M16.5 20.5h0M17.5 20.5h0M18.5 20.5h0M19.5 20.5h0"/>
</g>

<!-- small parts right -->
<rect x="3209" y="996" width="20" height="10" fill="#3d5a3d"/><rect x="3209" y="996" width="4" height="10" fill="#aaa"/><rect x="3225" y="996" width="4" height="10" fill="#aaa"/>
<rect x="2867" y="1220" width="20" height="8" fill="#3d5a3d"/><rect x="2867" y="1220" width="4" height="8" fill="#aaa"/><rect x="2883" y="1220" width="4" height="8" fill="#aaa"/>

<text x="3087" y="1255" font-size="44" fill="#f2f2f2" textLength="108" lengthAdjust="spacingAndGlyphs">XB08-R1</text>

<!-- standoffs -->
<g transform="translate(2068 430)"><circle r="26" fill="url(#scr)" stroke="#777" stroke-width="2"/><circle r="11" cx="3" cy="3" fill="#a9a9a9"/></g>
<g transform="translate(3246 428)"><circle r="26" fill="url(#scr)" stroke="#777" stroke-width="2"/><circle r="11" cx="3" cy="3" fill="#a9a9a9"/></g>
<g transform="translate(2068 1228)"><circle r="26" fill="url(#scr)" stroke="#777" stroke-width="2"/><circle r="11" cx="3" cy="3" fill="#a9a9a9"/></g>
<g transform="translate(3246 1228)"><circle r="26" fill="url(#scr)" stroke="#777" stroke-width="2"/><circle r="11" cx="3" cy="3" fill="#a9a9a9"/></g>

<!-- ================= CALLOUTS ================= -->
<g fill="none" stroke="#7dbd46" stroke-width="14">
 <path d="M971 180 V396"/>
 <path d="M576 397 V328 H1344 V397" stroke-linejoin="miter"/>
 <path d="M195 584 H331" stroke-linecap="round"/>
 <path d="M1597 584 H1725" stroke-linecap="round"/>
 <path d="M1618 819 H1730"/>
 <path d="M260 1172 H450" stroke-linecap="round"/>
 <path d="M1192 1049 V1340" stroke-linecap="round"/>
 <path d="M3140 1258 V1345" stroke-linecap="round"/>
</g>
<g fill="#7dbd46">
 <circle cx="972" cy="142" r="45"/>
 <circle cx="159" cy="584" r="44"/>
 <circle cx="1761" cy="584" r="44"/>
 <circle cx="1764" cy="818" r="44"/>
 <circle cx="227" cy="1172" r="43"/>
 <circle cx="1194" cy="1378" r="44"/>
 <circle cx="3142" cy="1382" r="44"/>
</g>
<g font-size="56" font-weight="bold" fill="#ffffff" text-anchor="middle">
 <text x="972" y="162">1</text>
 <text x="159" y="604">2</text>
 <text x="1761" y="604">2</text>
 <text x="1764" y="838">3</text>
 <text x="227" y="1192">4</text>
 <text x="1194" y="1398">5</text>
 <text x="3142" y="1402">6</text>
</g>
</svg>
</body></html>
